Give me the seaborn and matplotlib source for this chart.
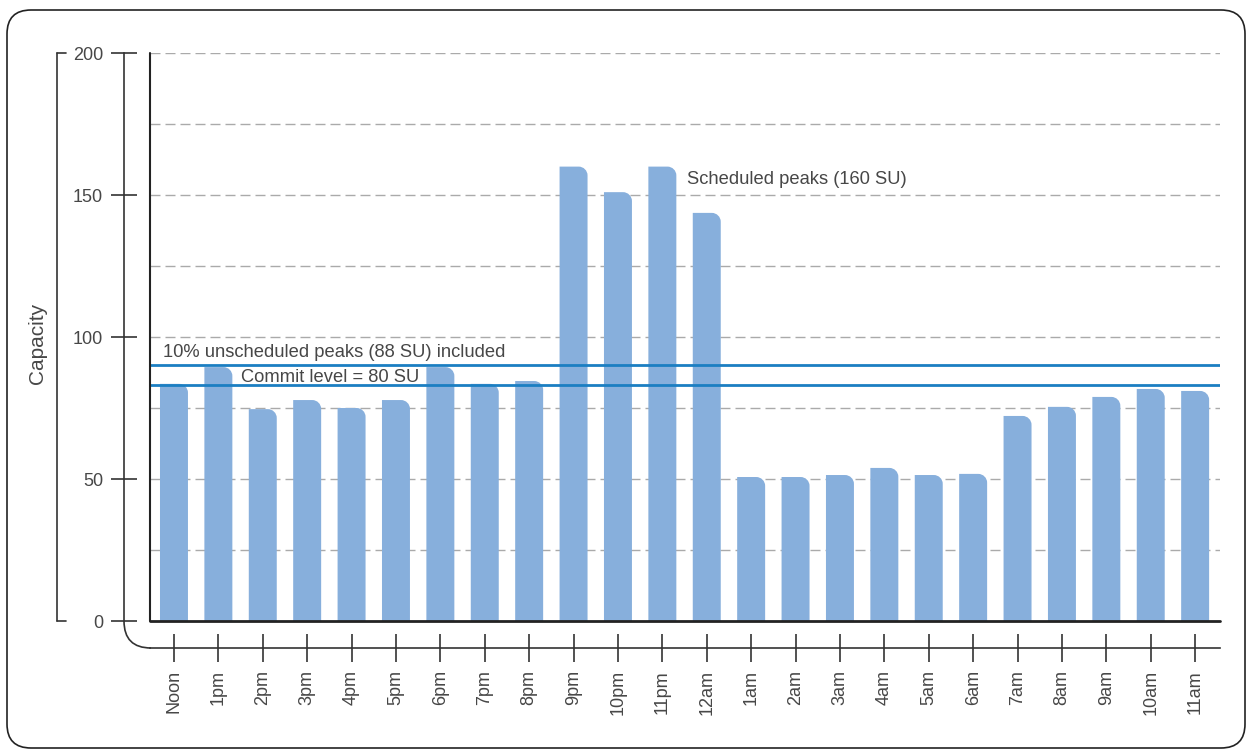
import matplotlib
matplotlib.use("Agg")
import matplotlib.pyplot as plt
import seaborn as sns
import pandas as pd
from matplotlib.path import Path
from matplotlib.patches import PathPatch, FancyBboxPatch
from matplotlib.transforms import blended_transform_factory

# ---- data ----
hours = ["Noon", "1pm", "2pm", "3pm", "4pm", "5pm", "6pm", "7pm", "8pm", "9pm",
         "10pm", "11pm", "12am", "1am", "2am", "3am", "4am", "5am", "6am", "7am",
         "8am", "9am", "10am", "11am"]
capacity = [83.5, 89.4, 74.6, 77.8, 75.0, 77.8, 89.4, 83.5, 84.5, 160.0,
            151.0, 160.0, 143.7, 50.7, 50.7, 51.4, 53.9, 51.4, 51.8, 72.2,
            75.4, 78.9, 81.7, 81.0]
unscheduled_level = 90.0
commit_level = 83.0
y_ticks = [0, 50, 100, 150, 200]
grid_levels = [25, 50, 75, 100, 125, 150, 175, 200]
ann_peaks = "Scheduled peaks (160 SU)"
ann_unsched = "10% unscheduled peaks (88 SU) included"
ann_commit = "Commit level = 80 SU"

df = pd.DataFrame({"hour": hours, "capacity": capacity})

sns.set_theme(style="white")
plt.rcParams["font.family"] = ["Liberation Sans", "DejaVu Sans"]

W, H = 1254, 756
fig = plt.figure(figsize=(W / 100, H / 100), dpi=100)
fig.patch.set_facecolor("white")

def fx(px):
    return px / W

def fy(py):
    return 1 - py / H

ax = fig.add_axes([fx(150), fy(621), (1220 - 150) / W, 568 / H])
ax.set_facecolor("white")

bar_color = "#87AFDC"
line_color = "#1B7EC2"
text_color = "#474747"
axis_color = "#333333"

sns.barplot(data=df, x="hour", y="capacity", color=bar_color, saturation=1,
            width=0.63, ax=ax, zorder=2)

xmin, xmax = -0.54, 23.56
ax.set_xlim(xmin, xmax)
ax.set_ylim(0, 200)

# rounded top-right corners on bars
rx, ry = 0.2, 3.1
for p in list(ax.patches):
    x0 = p.get_x()
    w = p.get_width()
    h = p.get_height()
    x1 = x0 + w
    k = 0.55
    verts = [(x0, 0), (x1, 0), (x1, h - ry),
             (x1, h - ry + ry * k), (x1 - rx + rx * k, h), (x1 - rx, h),
             (x0, h), (x0, 0)]
    codes = [Path.MOVETO, Path.LINETO, Path.LINETO,
             Path.CURVE4, Path.CURVE4, Path.CURVE4,
             Path.LINETO, Path.CLOSEPOLY]
    ax.add_patch(PathPatch(Path(verts, codes), facecolor=bar_color,
                           edgecolor="none", zorder=2))
    p.set_visible(False)

# grid lines
for g in grid_levels:
    ax.axhline(g, color="#AAAAAA", lw=1.0, dashes=(7.2, 3.6), zorder=1)

# reference lines
ax.axhline(unscheduled_level, color=line_color, lw=2.0, zorder=3)
ax.axhline(commit_level, color=line_color, lw=2.0, zorder=3)

# inner black axis lines
ax.axvline(xmin, color="#222222", lw=1.5, zorder=4, clip_on=False)
ax.axhline(0, color="#222222", lw=2.0, zorder=4, clip_on=False)

# spines (offset)
for s in ["top", "right"]:
    ax.spines[s].set_visible(False)
ax.spines["left"].set_position(("outward", 26 * 0.72))
ax.spines["bottom"].set_position(("outward", 27 * 0.72))
for s in ["left", "bottom"]:
    ax.spines[s].set_color(axis_color)
    ax.spines[s].set_linewidth(1.2)

ax.set_yticks(y_ticks)
ax.set_yticklabels([str(t) for t in y_ticks])
ax.tick_params(axis="y", direction="inout", length=26 * 0.72, width=1.2,
               color=axis_color, labelcolor=text_color, labelsize=13,
               pad=5.8, left=True)
ax.tick_params(axis="x", direction="inout", length=28 * 0.72, width=1.2,
               color=axis_color, labelcolor=text_color, labelsize=13,
               pad=5.8, labelrotation=90, bottom=True)
ax.set_xlabel("")
ax.set_ylabel("")

# curve joining the offset spines
curve = Path([(fx(124), fy(621)), (fx(124), fy(648)), (fx(151), fy(648))],
             [Path.MOVETO, Path.CURVE3, Path.CURVE3])
fig.add_artist(PathPatch(curve, fill=False, edgecolor=axis_color, lw=1.2,
                         transform=fig.transFigure))

# left bracket
trans = blended_transform_factory(fig.transFigure, ax.transData)
for xs, ys in [([fx(57), fx(57)], [0, 200]),
               ([fx(57), fx(66)], [200, 200]),
               ([fx(57), fx(66)], [0, 0])]:
    ax.plot(xs, ys, color=axis_color, lw=1.2, transform=trans, clip_on=False)

fig.text(fx(37), fy(343), "Capacity", rotation=90, ha="center", va="center",
         fontsize=15, color=text_color)

# annotations
ax.text(11.55, 155.6, ann_peaks, ha="left", va="center", fontsize=13.2,
        color=text_color, zorder=5)
ax.text(-0.25, 94.7, ann_unsched, ha="left", va="center", fontsize=13.2,
        color=text_color, zorder=5)
ax.text(1.51, 85.9, ann_commit, ha="left", va="center", fontsize=13.2,
        color=text_color, zorder=5)

# outer rounded border
fig.add_artist(FancyBboxPatch((0.07, 0.08), 12.38, 7.38,
                              boxstyle="round,pad=0,rounding_size=0.24",
                              transform=fig.dpi_scale_trans, fill=False,
                              edgecolor="#222222", lw=1.2))

fig.savefig("out.png", dpi=100)
